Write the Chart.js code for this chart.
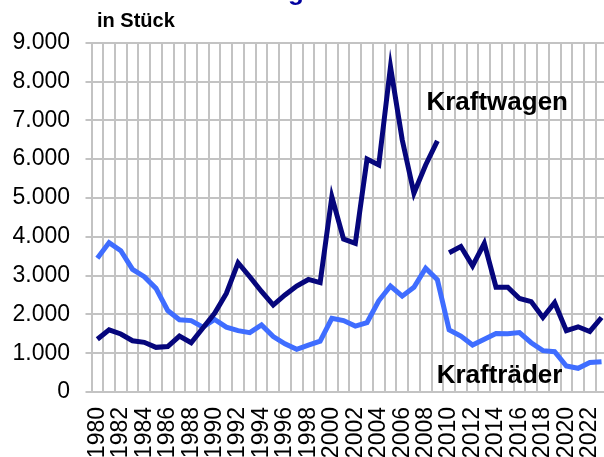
<!DOCTYPE html>
<html lang="de">
<head>
<meta charset="utf-8">
<title>Kraftfahrzeugdiebstahl</title>
<script src="https://cdn.jsdelivr.net/npm/chart.js@4/dist/chart.umd.min.js"></script>
<style>
  html, body { margin: 0; padding: 0; background: #fff; overflow: hidden; }
  #wrap { position: absolute; left: 0; top: 0; width: 620px; height: 470px; }
</style>
</head>
<body>
<div id="wrap"><canvas id="chart" width="620" height="470"></canvas></div>
<script>
/* ===== Daten ===== */
const jahre = [
  "1980","1981","1982","1983","1984","1985","1986","1987","1988","1989",
  "1990","1991","1992","1993","1994","1995","1996","1997","1998","1999",
  "2000","2001","2002","2003","2004","2005","2006","2007","2008","2009",
  "2010","2011","2012","2013","2014","2015","2016","2017","2018","2019",
  "2020","2021","2022","2023"
];

const kraftwagen = [
  1360, 1600, 1495, 1320, 1280, 1150, 1170, 1440, 1270, 1650,
  2030, 2540, 3330, 2970, 2590, 2240, 2500, 2730, 2900, 2820,
  5030, 3940, 3830, 6000, 5850, 8380, 6500, 5120, 5850, 6470,
  3590, 3750, 3250, 3830, 2700, 2700, 2410, 2330, 1920, 2300,
  1580, 1680, 1560, 1920
];

const kraftraeder = [
  3445, 3850, 3640, 3160, 2970, 2670, 2100, 1860, 1840, 1670,
  1870, 1670, 1580, 1530, 1730, 1430, 1240, 1100, 1210, 1310,
  1900, 1840, 1700, 1790, 2350, 2730, 2470, 2700, 3190, 2890,
  1600, 1440, 1210, 1360, 1510, 1500, 1530, 1270, 1065, 1040,
  670, 610, 760, 780
];

// Zeitreihe Kraftwagen ist nach 2009 unterbrochen
const bruchNach = "2009";

const yTicks = [0, 1000, 2000, 3000, 4000, 5000, 6000, 7000, 8000, 9000];

/* ===== Farben ===== */
const NAVY = "#06067c";
const HELLBLAU = "#3f6dff";
const GRID = "#c3c3c3";
const FONT = "'Liberation Sans', Arial, sans-serif";

// Beschriftungen direkt im Diagramm (Reihenname, Titel, Einheit)
const textPlugin = {
  id: "texte",
  afterDatasetsDraw(chart) {
    const { ctx, scales: { x, y } } = chart;
    ctx.save();
    ctx.textBaseline = "alphabetic";

    // Titel liegt oberhalb des sichtbaren Bereichs
    ctx.fillStyle = "#0000a0";
    ctx.font = "bold 26px " + FONT;
    ctx.textAlign = "left";
    ctx.fillText("Kraftfahrzeugdiebstahl", 288 - ctx.measureText("Kraftfahrzeu").width, 0);

    ctx.fillStyle = "#000";
    ctx.font = "bold 20px " + FONT;
    ctx.fillText("in Stück", 97, 26.5);

    ctx.font = "bold 26px " + FONT;
    ctx.textAlign = "center";
    ctx.fillText("Kraftwagen", x.getPixelForValue(34.1), y.getPixelForValue(7270));
    ctx.fillText("Krafträder", x.getPixelForValue(34.3), y.getPixelForValue(232));
    ctx.restore();
  }
};

new Chart(document.getElementById("chart"), {
  type: "line",
  data: {
    labels: jahre,
    datasets: [
      {
        label: "Kraftwagen",
        data: kraftwagen,
        borderColor: NAVY,
        borderWidth: 5,
        pointRadius: 0,
        tension: 0,
        segment: {
          borderColor: c => jahre[c.p0DataIndex] === bruchNach ? "rgba(0,0,0,0)" : NAVY
        }
      },
      {
        label: "Krafträder",
        data: kraftraeder,
        borderColor: HELLBLAU,
        borderWidth: 5,
        pointRadius: 0,
        tension: 0
      }
    ]
  },
  options: {
    responsive: false,
    animation: false,
    events: [],
    layout: { padding: { left: 0, top: 42.7, right: 12.6, bottom: 0 } },
    plugins: {
      legend: { display: false },
      tooltip: { enabled: false }
    },
    scales: {
      x: {
        offset: true,
        grid: { offset: true, color: GRID, lineWidth: 2, drawTicks: false },
        border: { color: GRID, width: 2 },
        ticks: {
          autoSkip: false,
          minRotation: 90,
          maxRotation: 90,
          padding: 15,
          color: "#000",
          font: { family: FONT, size: 23 },
          callback: (v, i) => i % 2 === 0 ? jahre[i] : ""
        },
        afterFit: s => {
          s.height = 78;
          s.paddingLeft = 0;
          s.paddingRight = 0;
        }
      },
      y: {
        min: 0,
        max: 9000,
        afterBuildTicks: s => { s.ticks = yTicks.map(v => ({ value: v })); },
        grid: { color: GRID, lineWidth: 2, tickLength: 6 },
        border: { color: GRID, width: 2 },
        ticks: {
          padding: 15.5,
          color: "#000",
          font: { family: FONT, size: 23 },
          callback: v => v.toLocaleString("de-DE")
        },
        afterFit: s => { s.width = 91.5; }
      }
    }
  },
  plugins: [textPlugin]
});
</script>
</body>
</html>
